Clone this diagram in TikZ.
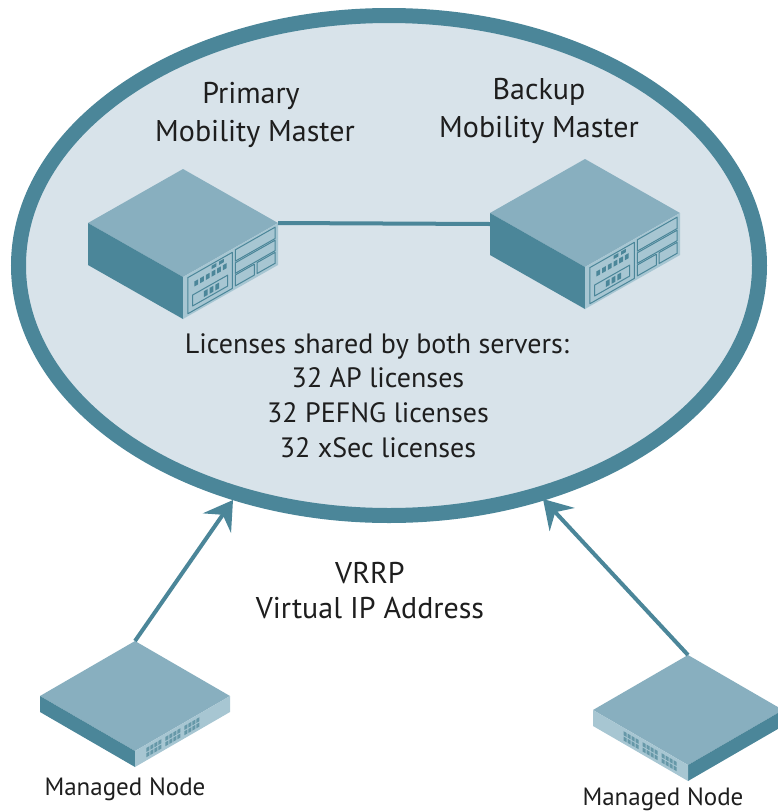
\documentclass[tikz,border=0pt]{standalone}
\usepackage{fontspec}
\setmainfont{PT Sans}
\usetikzlibrary{arrows.meta,positioning}
\definecolor{mmteal}{RGB}{75,134,153}
\definecolor{mmtop}{RGB}{136,175,191}
\definecolor{mmpanel}{RGB}{167,198,210}
\definecolor{mmfill}{RGB}{216,227,234}
\definecolor{mmtext}{RGB}{30,30,30}

\begin{document}
\begin{tikzpicture}[
  x=1pt,y=-1pt,
  lbl/.style={font=\fontsize{30}{34}\selectfont,text=mmtext,inner sep=0pt,anchor=base},
  liclbl/.style={font=\fontsize{28}{32}\selectfont,text=mmtext,inner sep=0pt,anchor=base},
  smalllbl/.style={font=\fontsize{25}{28}\selectfont,text=mmtext,inner sep=0pt,anchor=base},
  link/.style={draw=mmteal,line width=4pt},
  vrrp/.style={draw=mmteal,line width=4pt,-{Stealth[length=28pt,width=34pt,inset=10pt]}},
  detail/.style={draw=mmteal,line width=1pt,line join=round},
  mmserver/.pic={
    \fill[mmtop] (0,0) -- (95,54) -- (0,108) -- (-95,54) -- cycle;
    \fill[mmteal] (-95,54) -- (0,108) -- (0,150) -- (-95,96) -- cycle;
    \fill[mmpanel] (0,108) -- (95,54) -- (95,96) -- (0,150) -- cycle;
    \coordinate (-west) at (-95,65);
    \coordinate (-east) at (95,54);
    \begin{scope}[shift={(0,108)},x={(95pt,54pt)},y={(0pt,-42pt)}]
      % front panel slots
      \foreach \a/\b/\c/\d in {0.05/0.08/0.52/0.94,0.10/0.56/0.47/0.82,
          0.55/0.06/0.97/0.33,0.55/0.37/0.97/0.62,0.55/0.66/0.75/0.92,0.78/0.66/0.97/0.92}
        \draw[detail] (\a,\b) -- (\c,\b) -- (\c,\d) -- (\a,\d) -- cycle;
      \foreach \s in {0.12,0.18,...,0.44}
        \fill[mmteal] (\s,0.26) -- ++(0.04,0) -- ++(0,0.12) -- ++(-0.04,0) -- cycle;
      \foreach \s in {0.30,0.38}
        \fill[mmteal] (\s,0.12) -- ++(0.05,0) -- ++(0,0.08) -- ++(-0.05,0) -- cycle;
      \foreach \s in {0.22,0.28,0.34}
        \fill[mmteal] (\s,0.62) -- ++(0.04,0) -- ++(0,0.14) -- ++(-0.04,0) -- cycle;
    \end{scope}
  },
  mnode/.pic={
    \fill[mmtop] (0,0) -- (95,55) -- (0,110) -- (-95,55) -- cycle;
    \fill[mmteal] (-95,55) -- (0,110) -- (0,126) -- (-95,71) -- cycle;
    \fill[mmpanel] (0,110) -- (95,55) -- (95,71) -- (0,126) -- cycle;
    \coordinate (-top) at (0,0);
    \begin{scope}[shift={(0,110)},x={(95pt,55pt)},y={(0pt,-16pt)}]
      % ports
      \foreach \g in {0.12,0.32,0.52}
        \foreach \c in {0,1,2,3}
          \foreach \r in {0.22,0.55}
            \fill[mmteal!85] (\g+\c*0.042,\r) -- ++(0.032,0) -- ++(0,0.25) -- ++(-0.032,0) -- cycle;
    \end{scope}
  }
]
\useasboundingbox (0,0) rectangle (778,812);
% Mobility Master domain
\draw[draw=mmteal,fill=mmfill,line width=15pt] (389,265.5) ellipse [x radius=370.5pt,y radius=250pt];
% Primary
\node[lbl] (primA) at (251,103) {Primary};
\node[lbl] (primB) at (255,141) {Mobility Master};
% Backup
\node[lbl] (backA) at (539,99) {Backup};
\node[lbl] (backB) at (539,137) {Mobility Master};
% servers
\pic (pm) at (183,169) {mmserver};
\pic (bm) at (585,159) {mmserver};
\draw[link] (pm-east) -- (bm-west);
% shared licenses
\node[liclbl] (lic1) at (377,353) {Licenses shared by both servers:};
\node[liclbl] (lic2) at (378,387) {32 AP licenses};
\node[liclbl] (lic3) at (378,422) {32 PEFNG licenses};
\node[liclbl] (lic4) at (378,457) {32 xSec licenses};
% VRRP
\node[lbl] (vrrpA) at (370,583) {VRRP};
\node[lbl] (vrrpB) at (370,618) {Virtual IP Address};
% managed nodes
\pic (ml) at (135,641) {mnode};
\pic[xscale=-1] (mr) at (688,655) {mnode};
\node[smalllbl] (mlT) at (125,795) {Managed Node};
\node[smalllbl] (mrT) at (663,805) {Managed Node};
\coordinate (tipL) at (233,500);
\coordinate (tipR) at (543,499);
\draw[vrrp] (ml-top) -- (tipL);
\draw[vrrp] (mr-top) -- (tipR);
\end{tikzpicture}
\end{document}
